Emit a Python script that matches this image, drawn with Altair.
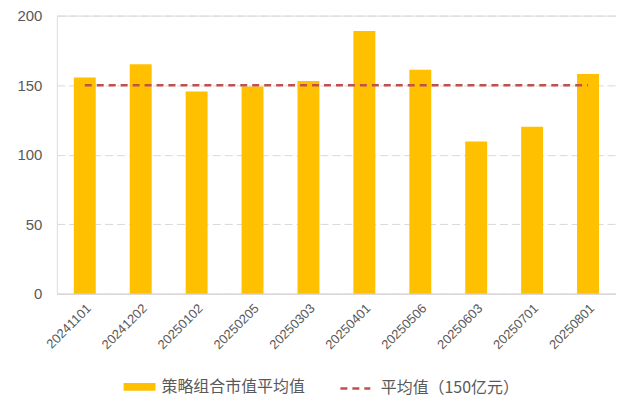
import altair as alt
import pandas as pd

dates = ["20241101", "20241202", "20250102", "20250205", "20250303",
         "20250401", "20250506", "20250603", "20250701", "20250801"]
values = [155.5, 165, 145.5, 149, 153, 189, 161, 109.5, 120, 158]
avg_value = [150]
bar_name = "策略组合市值平均值"
line_name = "平均值（150亿元）"
y_ticks = [0, 50, 100, 150, 200]

df = pd.DataFrame({"date": dates, "value": values, "series": bar_name})
avg_df = pd.DataFrame({"date": [dates[0]], "end": [dates[-1]],
                       "value": avg_value, "series": [line_name]})

LABEL_COLOR = "#595959"
NUM_FONT = "Liberation Sans"
CJK_FONT = "Noto Sans CJK SC"

x_enc = alt.X(
    "date:N",
    scale=alt.Scale(domain=dates, paddingInner=0.61, paddingOuter=0.305),
    axis=alt.Axis(title=None, labelAngle=-45, ticks=False, domainColor="#D9D9D9",
                  domainWidth=1.5, labelFontSize=13, labelFont=NUM_FONT,
                  labelColor=LABEL_COLOR, labelPadding=8, grid=False),
)
y_enc = alt.Y(
    "value:Q",
    scale=alt.Scale(domain=[0, 200], nice=False),
    axis=alt.Axis(title=None, values=y_ticks, domain=False, ticks=False,
                  labelFontSize=15, labelFont=NUM_FONT, labelColor=LABEL_COLOR,
                  labelPadding=15, gridDash=[8, 4], gridColor="#D9D9D9", gridWidth=1),
)

bars = alt.Chart(df).mark_bar(size=22).encode(
    x=x_enc,
    y=y_enc,
    color=alt.Color(
        "series:N",
        scale=alt.Scale(domain=[bar_name], range=["#FFC000"]),
        legend=alt.Legend(
            title=None, orient="none", legendX=73, legendY=362.5,
            symbolType="M-1.6,-0.38L1.6,-0.38L1.6,0.38L-1.6,0.38Z",
            symbolSize=400, symbolStrokeWidth=0, labelOffset=12, padding=0,
            labelFontSize=16, labelFont=CJK_FONT, labelColor=LABEL_COLOR,
        ),
    ),
)

rule = alt.Chart(avg_df).mark_rule(strokeDash=[7, 5], strokeWidth=2.5).encode(
    x=alt.X("date:N"),
    x2="end:N",
    y=alt.Y("value:Q"),
    stroke=alt.Stroke(
        "series:N",
        scale=alt.Scale(domain=[line_name], range=["#C0504D"]),
        legend=alt.Legend(
            title=None, orient="none", legendX=283, legendY=357.5,
            symbolType="stroke", symbolSize=900, symbolDash=[7, 5],
            symbolStrokeWidth=2.5, labelOffset=9, padding=0,
            labelFontSize=16, labelFont=CJK_FONT, labelColor=LABEL_COLOR,
        ),
    ),
)

chart = alt.layer(bars, rule).properties(
    width=561, height=279,
    autosize=alt.AutoSizeParams(type="none"),
    padding={"left": 49, "top": 7, "right": 0, "bottom": 103},
).configure_view(stroke=None).configure(background="white")

chart.save("out.html", embed_options={"renderer": "svg", "actions": False})
